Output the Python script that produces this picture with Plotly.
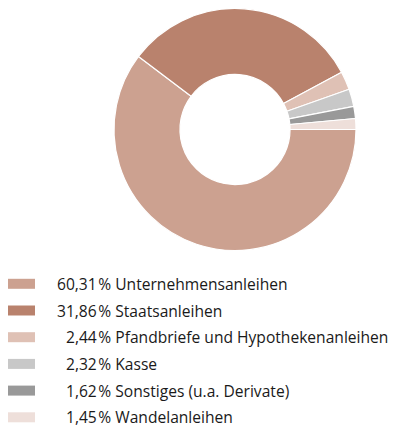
import plotly.graph_objects as go

labels = ["Unternehmensanleihen", "Staatsanleihen", "Pfandbriefe und Hypothekenanleihen",
          "Kasse", "Sonstiges (u.a. Derivate)", "Wandelanleihen"]
values = [60.31, 31.86, 2.44, 2.32, 1.62, 1.45]
colors = ["#CCA190", "#B9826D", "#DFC1B5", "#C8C8C8", "#999999", "#EEDFDA"]

# page has an 8px body margin; work in reference pixel coords and shift
OFF = 8
W, H = 402 - OFF, 428 - OFF


def px(x):
    return (x - OFF) / W


def py(y):
    return 1 - (y - OFF) / H


fig = go.Figure()
fig.add_trace(go.Pie(
    labels=labels, values=values, sort=False, direction="clockwise", rotation=90,
    hole=0.455, marker=dict(colors=colors, line=dict(color="white", width=1.2)),
    textinfo="none", hoverinfo="label+percent", showlegend=False,
    domain=dict(x=[px(114), px(356)], y=[py(251), py(8)]),
))

FONT = "Open Sans"
row0, step = 283.8, 26.7
shapes, annots = [], []
for i, (lab, v, c) in enumerate(zip(labels, values, colors)):
    yc = row0 + i * step
    shapes.append(dict(type="rect", xref="paper", yref="paper",
                       x0=px(8), x1=px(35), y0=py(yc + 5), y1=py(yc - 5),
                       fillcolor=c, line=dict(width=0)))
    txt = f"{v:.2f}".replace(".", ",") + "\u200a% " + lab
    x = 55 if v >= 10 else 64
    annots.append(dict(text=txt, x=px(x), y=py(yc), xref="paper", yref="paper",
                       xanchor="left", yanchor="middle", showarrow=False,
                       font=dict(family=FONT, size=15.6, color="#1a1a1a")))

fig.update_layout(width=W, height=H, margin=dict(l=0, r=0, t=0, b=0),
                  paper_bgcolor="white", plot_bgcolor="white",
                  shapes=shapes, annotations=annots)
fig.write_html("out.html")
